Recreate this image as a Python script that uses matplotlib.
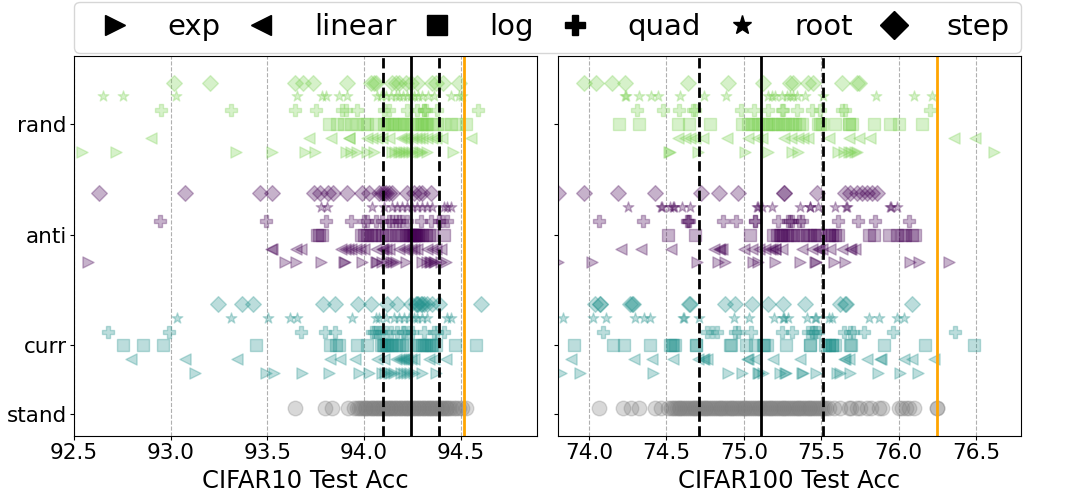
import matplotlib
matplotlib.use('Agg')
import matplotlib.pyplot as plt
import numpy as np
from matplotlib.lines import Line2D

schedules = ['exp', 'linear', 'log', 'quad', 'root', 'step']
markers = ['>', '<', 's', 'P', '*', 'D']
groups = ['curr', 'anti', 'rand']
group_colors = ['#21918c', '#440154', '#7ad151']
ytick_labels = ['stand', 'curr', 'anti', 'rand']

# ---------------- CIFAR10 ----------------
c10_curr = {
    'exp': [93.124, 93.491, 93.534, 93.681, 93.819, 93.974, 94.026, 94.095, 94.11, 94.129, 94.14,
            94.155, 94.19, 94.207, 94.224, 94.24, 94.259, 94.302, 94.371],
    'linear': [92.793, 93.072, 93.341, 93.824, 93.876, 93.952, 94.069, 94.103, 94.164, 94.18, 94.19,
               94.2, 94.207, 94.215, 94.224, 94.241, 94.259, 94.336, 94.362, 94.422],
    'log': [92.755, 92.859, 92.962, 93.44, 93.824, 93.853, 93.871, 93.962, 94.017, 94.086, 94.1,
            94.105, 94.112, 94.12, 94.129, 94.14, 94.147, 94.164, 94.181, 94.198, 94.216, 94.267,
            94.284, 94.302, 94.31, 94.319, 94.336, 94.345, 94.353, 94.371, 94.471, 94.581],
    'quad': [92.678, 92.991, 93.676, 93.797, 93.848, 94.043, 94.05, 94.06, 94.078, 94.09, 94.112,
             94.138, 94.172, 94.2, 94.207, 94.233, 94.25, 94.31, 94.362, 94.379, 94.414],
    'root': [93.031, 93.314, 93.505, 93.616, 93.655, 93.94, 94.06, 94.078, 94.112, 94.155, 94.181,
             94.207, 94.233, 94.259, 94.276, 94.302, 94.328, 94.431, 94.448],
    'step': [93.247, 93.371, 93.428, 93.79, 93.848, 93.971, 94.034, 94.121, 94.169, 94.241, 94.27,
             94.276, 94.28, 94.293, 94.3, 94.31, 94.328, 94.353, 94.388, 94.603],
}
c10_anti = {
    'exp': [92.572, 93.59, 93.647, 93.779, 93.897, 93.9, 93.991, 94.06, 94.07, 94.095, 94.12,
            94.138, 94.15, 94.164, 94.216, 94.302, 94.328, 94.34, 94.345, 94.362, 94.37, 94.397, 94.422],
    'linear': [93.521, 93.525, 93.647, 93.672, 93.879, 93.9, 93.917, 93.934, 93.957, 93.979, 94.0,
               94.06, 94.095, 94.1, 94.112, 94.129, 94.181, 94.207, 94.224, 94.241, 94.259, 94.276,
               94.328, 94.353, 94.371, 94.397],
    'log': [93.759, 93.77, 93.784, 93.983, 94.0, 94.017, 94.034, 94.052, 94.069, 94.095, 94.112,
            94.129, 94.164, 94.181, 94.198, 94.216, 94.233, 94.24, 94.25, 94.255, 94.259, 94.262,
            94.267, 94.27, 94.28, 94.284, 94.302, 94.319, 94.336, 94.353, 94.414],
    'quad': [92.945, 93.495, 93.805, 93.934, 94.0, 94.017, 94.06, 94.095, 94.129, 94.147, 94.164,
             94.181, 94.198, 94.224, 94.293, 94.345, 94.388, 94.405, 94.431],
    'root': [93.779, 93.81, 94.043, 94.103, 94.147, 94.172, 94.198, 94.224, 94.25, 94.276, 94.302,
             94.328, 94.353, 94.414, 94.431, 94.448],
    'step': [92.631, 93.074, 93.46, 93.522, 93.741, 93.772, 93.814, 93.841, 93.914, 93.991, 94.026,
             94.078, 94.095, 94.105, 94.112, 94.129, 94.147, 94.224, 94.259, 94.284, 94.302, 94.345],
}
c10_rand = {
    'exp': [92.543, 92.719, 93.34, 93.524, 93.693, 93.745, 93.905, 93.931, 93.966, 94.017, 94.052,
            94.147, 94.16, 94.181, 94.19, 94.207, 94.22, 94.233, 94.25, 94.276, 94.29, 94.302,
            94.328, 94.46],
    'linear': [92.9, 93.716, 93.828, 93.922, 93.925, 94.017, 94.043, 94.069, 94.095, 94.129, 94.19,
               94.207, 94.224, 94.25, 94.267, 94.284, 94.302, 94.328, 94.353, 94.371, 94.405, 94.552],
    'log': [93.819, 93.862, 93.897, 93.931, 93.966, 94.0, 94.017, 94.06, 94.103, 94.121, 94.129,
            94.147, 94.155, 94.181, 94.198, 94.207, 94.224, 94.25, 94.276, 94.293, 94.302, 94.31,
            94.319, 94.328, 94.353, 94.379, 94.414, 94.448, 94.483, 94.526],
    'quad': [92.952, 93.314, 93.645, 93.753, 93.888, 93.905, 93.962, 94.103, 94.129, 94.224, 94.276,
             94.31, 94.312, 94.319, 94.379, 94.591],
    'root': [92.652, 92.755, 93.026, 93.655, 93.784, 93.802, 93.871, 93.914, 94.069, 94.09, 94.112,
             94.14, 94.164, 94.181, 94.2, 94.224, 94.241, 94.259, 94.28, 94.302, 94.33, 94.362,
             94.448, 94.491, 94.509],
    'step': [93.017, 93.203, 93.641, 93.686, 93.738, 93.914, 94.034, 94.052, 94.06, 94.147, 94.164,
             94.181, 94.216, 94.241, 94.276, 94.353, 94.371, 94.41, 94.491],
}
c10_stand = [93.645, 93.797, 93.836, 93.917, 93.95, 93.962, 93.975, 93.983, 93.994, 94.003, 94.012,
             94.02, 94.031, 94.04, 94.048, 94.057, 94.066, 94.074, 94.083, 94.092, 94.1, 94.108,
             94.117, 94.125, 94.134, 94.142, 94.15, 94.159, 94.167, 94.176, 94.184, 94.193, 94.201,
             94.21, 94.218, 94.227, 94.235, 94.244, 94.252, 94.261, 94.269, 94.278, 94.286, 94.295,
             94.303, 94.312, 94.32, 94.329, 94.337, 94.346, 94.354, 94.363, 94.371, 94.38, 94.388,
             94.397, 94.405, 94.414, 94.422, 94.431, 94.44, 94.452, 94.465, 94.478, 94.49, 94.505,
             94.526]
c10_band = [94.10, 94.245, 94.39]   # lower, mean, upper
c10_best = 94.517
c10_xticks = [92.5, 93.0, 93.5, 94.0, 94.5]

# ---------------- CIFAR100 ----------------
c100_curr = {
    'exp': [73.821, 73.94, 74.414, 74.9, 74.986, 75.094, 75.1, 75.126, 75.234, 75.266, 75.27,
            75.374, 75.38, 75.465, 75.601, 75.622, 75.687, 75.866, 76.01, 76.125],
    'linear': [73.886, 74.291, 74.41, 74.544, 74.705, 74.738, 74.745, 74.759, 75.018, 75.025,
               75.072, 75.191, 75.363, 75.644, 75.65, 75.676, 75.795, 75.881, 75.885, 76.032,
               76.086, 76.226],
    'log': [73.903, 74.155, 74.226, 74.397, 74.522, 74.537, 74.54, 74.554, 74.688, 74.69, 74.91,
            74.915, 75.014, 75.072, 75.126, 75.13, 75.148, 75.27, 75.428, 75.43, 75.525, 75.547,
            75.55, 75.568, 75.57, 75.59, 75.687, 75.69, 75.903, 76.168, 76.485],
    'quad': [74.091, 74.759, 74.792, 74.824, 74.943, 74.96, 75.046, 75.245, 75.309, 75.417, 75.439,
             75.445, 75.46, 75.482, 75.644, 75.687, 75.708, 75.773, 75.961, 76.366],
    'root': [73.832, 74.026, 74.108, 74.296, 74.356, 74.393, 74.608, 74.612, 74.71, 74.938, 75.035,
             75.197, 75.255, 75.26, 75.288, 75.406, 75.46, 75.465, 75.547, 75.568, 75.805, 75.87,
             75.989, 76.032],
    'step': [74.037, 74.069, 74.072, 74.263, 74.278, 74.281, 74.647, 74.65, 74.878, 74.943, 75.05,
             75.158, 75.255, 75.396, 75.622, 75.654, 75.657, 76.086],
}
c100_anti = {
    'exp': [73.799, 74.019, 74.695, 74.835, 74.878, 75.061, 75.094, 75.201, 75.363, 75.46, 75.465,
            75.579, 75.654, 76.075, 76.129, 76.327],
    'linear': [74.205, 74.334, 74.528, 74.809, 74.841, 74.845, 74.856, 75.003, 75.05, 75.098,
               75.137, 75.169, 75.18, 75.2, 75.201, 75.245, 75.374, 75.439, 75.482, 75.485, 75.503,
               75.557, 75.633, 75.687, 75.69, 75.719],
    'log': [74.507, 74.684, 75.04, 75.191, 75.212, 75.234, 75.24, 75.255, 75.277, 75.299, 75.32,
            75.342, 75.385, 75.406, 75.428, 75.45, 75.471, 75.493, 75.547, 75.55, 75.568, 75.59,
            75.611, 75.805, 75.838, 75.935, 75.989, 76.021, 76.043, 76.086, 76.107],
    'quad': [74.065, 74.349, 74.634, 74.64, 74.645, 74.867, 74.947, 75.07, 75.072, 75.223, 75.288,
             75.3, 75.309, 75.353, 75.374, 75.611, 75.734, 75.844, 76.064],
    'root': [74.252, 74.468, 74.47, 74.522, 74.544, 74.548, 74.598, 74.651, 75.083, 75.09, 75.115,
             75.18, 75.363, 75.428, 75.43, 75.482, 75.59, 75.665, 75.66, 75.946, 75.95, 75.989],
    'step': [73.799, 73.968, 74.188, 74.425, 74.723, 74.841, 74.964, 75.262, 75.262, 75.471, 75.65,
             75.687, 75.73, 75.762, 75.794, 75.827, 75.859],
}
c100_rand = {
    'exp': [74.516, 74.52, 74.701, 75.007, 75.158, 75.309, 75.352, 75.611, 75.644, 75.676, 75.69,
            75.72, 75.73, 76.614],
    'linear': [74.576, 74.619, 74.651, 74.684, 74.738, 74.889, 75.025, 75.083, 75.115, 75.262,
               75.305, 75.348, 75.385, 75.417, 75.553, 75.676, 75.741, 75.816, 76.36, 76.491],
    'log': [74.194, 74.324, 74.572, 74.647, 74.783, 74.986, 75.029, 75.05, 75.072, 75.094, 75.115,
            75.14, 75.158, 75.18, 75.201, 75.22, 75.245, 75.266, 75.288, 75.31, 75.331, 75.353,
            75.374, 75.482, 75.49, 75.503, 75.59, 75.676, 75.68, 75.698, 75.838, 75.946, 76.0,
            76.151],
    'quad': [74.313, 74.479, 74.582, 74.669, 74.684, 74.981, 75.068, 75.158, 75.245, 75.255, 75.342,
             75.439, 75.493, 75.633, 75.654, 76.204],
    'root': [74.231, 74.242, 74.324, 74.403, 74.447, 74.589, 74.74, 74.884, 75.158, 75.18, 75.201,
             75.245, 75.277, 75.299, 75.32, 75.342, 75.396, 75.514, 75.853, 76.097, 76.215],
    'step': [73.968, 74.043, 74.149, 74.235, 74.641, 74.9, 75.126, 75.299, 75.32, 75.417, 75.449,
             75.633, 75.73, 75.741],
}
c100_stand = [74.065, 74.22, 74.27, 74.321, 74.425, 74.468, 74.511, 74.53, 74.542, 74.555, 74.566,
              74.578, 74.59, 74.603, 74.614, 74.626, 74.639, 74.65, 74.662, 74.675, 74.686, 74.699,
              74.71, 74.722, 74.735, 74.746, 74.758, 74.771, 74.782, 74.794, 74.807, 74.818, 74.83,
              74.843, 74.854, 74.866, 74.879, 74.89, 74.902, 74.915, 74.926, 74.938, 74.951, 74.962,
              74.974, 74.987, 74.998, 75.01, 75.023, 75.034, 75.046, 75.059, 75.07, 75.082, 75.095,
              75.106, 75.118, 75.131, 75.142, 75.154, 75.167, 75.178, 75.19, 75.203, 75.214, 75.226,
              75.239, 75.25, 75.262, 75.275, 75.286, 75.298, 75.311, 75.322, 75.334, 75.347, 75.358,
              75.37, 75.383, 75.394, 75.406, 75.419, 75.43, 75.442, 75.455, 75.466, 75.478, 75.491,
              75.502, 75.515, 75.53, 75.547, 75.58, 75.62, 75.676, 75.69, 75.73, 75.75, 75.795,
              75.82, 75.87, 75.89, 76.0, 76.021, 76.05, 76.064, 76.097, 76.248, 76.25]
c100_band = [74.712, 75.113, 75.512]
c100_best = 76.245
c100_xticks = [74.0, 74.5, 75.0, 75.5, 76.0, 76.5]

# layout of rows
group_y = [1.0, 2.0, 3.0]
row_off = [-0.25, -0.125, 0.0, 0.125, 0.25, 0.375]
stand_y = 0.44
ytick_pos = [0.38, 1.0, 2.0, 3.0]


def draw_panel(ax, data, stand, band, best, xticks, xlim, xlabel):
    for g, d in enumerate(data):
        for i, sch in enumerate(schedules):
            vals = d[sch]
            ax.scatter(vals, np.full(len(vals), group_y[g] + row_off[i]), s=64,
                       marker=markers[i], color=group_colors[g], alpha=0.3)
    ax.scatter(stand, np.full(len(stand), stand_y), s=110, marker='o', color='grey', alpha=0.3)
    ax.axvline(band[0], color='black', ls='--', lw=2)
    ax.axvline(band[1], color='black', ls='-', lw=2)
    ax.axvline(band[2], color='black', ls='--', lw=2)
    ax.axvline(best, color='orange', ls='-', lw=2)
    ax.set_axisbelow(True)
    ax.grid(axis='x', ls='--', color='#b0b0b0', lw=0.8)
    ax.set_xticks(xticks)
    ax.set_xlim(xlim)
    ax.set_ylim(0.183, 3.615)
    ax.set_yticks(ytick_pos)
    ax.tick_params(labelsize=15.5, length=2.6, pad=2.5)
    ax.set_xlabel(xlabel, fontsize=17.5)


fig = plt.figure(figsize=(10.8, 5.04), dpi=100)
ax1 = fig.add_axes([0.0685, 0.135, 0.4287, 0.754])
ax2 = fig.add_axes([0.5167, 0.135, 0.4287, 0.754])

draw_panel(ax1, [c10_curr, c10_anti, c10_rand], c10_stand, c10_band, c10_best,
           c10_xticks, (92.5, 94.895), 'CIFAR10 Test Acc')
draw_panel(ax2, [c100_curr, c100_anti, c100_rand], c100_stand, c100_band, c100_best,
           c100_xticks, (73.8, 76.79), 'CIFAR100 Test Acc')
ax1.set_yticklabels(ytick_labels)
ax2.set_yticklabels([])

handles = [Line2D([], [], marker=m, color='black', ls='None', markersize=14) for m in markers]
fig.legend(handles, schedules, loc='lower left', bbox_to_anchor=(0.0685, 0.895, 0.877, 0.1),
           mode='expand', ncol=6, borderaxespad=0, fontsize=21)

fig.savefig('out.png', dpi=100)
